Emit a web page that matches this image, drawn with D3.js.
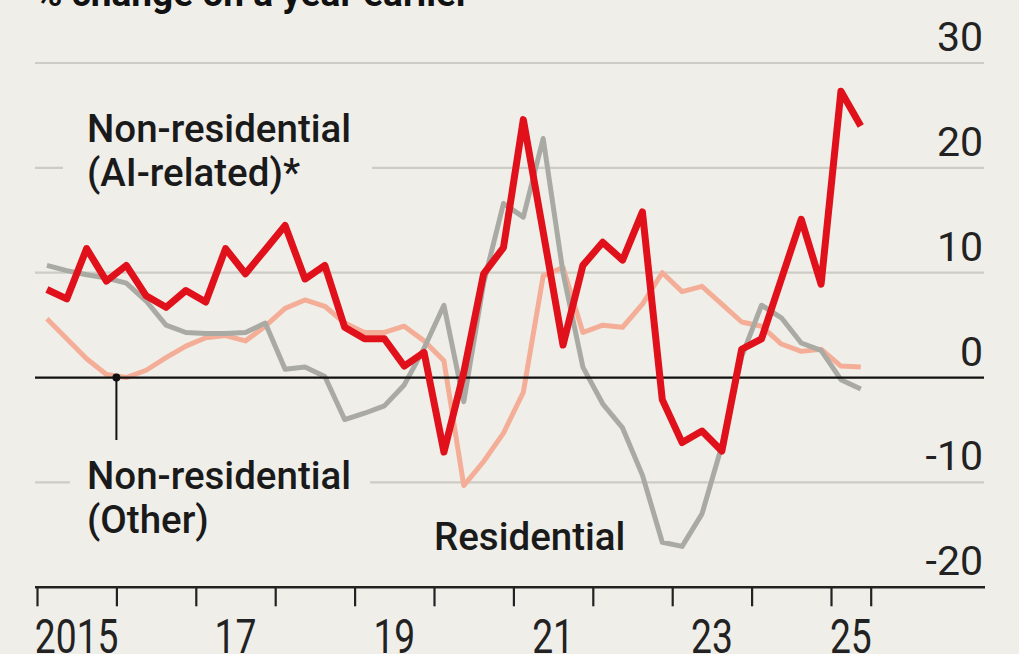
<!DOCTYPE html>
<html>
<head>
<meta charset="utf-8">
<script src="https://cdn.jsdelivr.net/npm/d3@7"></script>
<style>
  html, body { margin: 0; padding: 0; background: #efeee9; }
  svg { display: block; }
  text { font-family: Roboto, "Noto Sans", "Liberation Sans", sans-serif; }
</style>
</head>
<body>
<svg id="chart" width="1019" height="654"></svg>
<script>
// ---------- data ----------
const quarters = [
  "2015Q1","2015Q2","2015Q3","2015Q4",
  "2016Q1","2016Q2","2016Q3","2016Q4",
  "2017Q1","2017Q2","2017Q3","2017Q4",
  "2018Q1","2018Q2","2018Q3","2018Q4",
  "2019Q1","2019Q2","2019Q3","2019Q4",
  "2020Q1","2020Q2","2020Q3","2020Q4",
  "2021Q1","2021Q2","2021Q3","2021Q4",
  "2022Q1","2022Q2","2022Q3","2022Q4",
  "2023Q1","2023Q2","2023Q3","2023Q4",
  "2024Q1","2024Q2","2024Q3","2024Q4",
  "2025Q1","2025Q2"
];
// Non-residential (AI-related)*, % change on a year earlier
const aiRelated = [
  8.4, 7.5, 12.3, 9.2,
  10.7, 7.8, 6.7, 8.3,
  7.2, 12.3, 9.9, 12.2,
  14.5, 9.4, 10.7, 4.8,
  3.7, 3.7, 1.1, 2.4,
  -7.1, 0.5, 9.9, 12.4,
  24.6, 13.9, 3.1, 10.7,
  12.9, 11.2, 15.8, -2.1,
  -6.2, -5.1, -7.0, 2.7,
  3.7, 9.4, 15.1, 8.9,
  27.3, 24.0
];
// Non-residential (Other)
const other = [
  5.6, 3.7, 1.8, 0.3,
  0.0, 0.7, 1.9, 3.0,
  3.8, 4.0, 3.5, 4.9,
  6.6, 7.4, 6.8, 5.2,
  4.3, 4.3, 4.9, 3.5,
  1.6, -10.3, -8.0, -5.3,
  -1.4, 9.7, 10.5, 4.3,
  5.0, 4.8, 7.0, 10.0,
  8.2, 8.7, 7.0, 5.3,
  4.9, 3.2, 2.5, 2.7,
  1.1, 1.0
];
// Residential
const residential = [
  10.7, 10.2, 9.8, 9.5,
  9.0, 7.3, 5.0, 4.3,
  4.2, 4.2, 4.3, 5.2,
  0.8, 1.0, 0.1, -4.0,
  -3.4, -2.7, -0.7, 2.8,
  6.9, -2.3, 9.0, 16.6,
  15.3, 22.8, 10.0, 1.0,
  -2.5, -4.8, -9.3, -15.7,
  -16.1, -13.0, -6.5, 2.0,
  6.9, 5.7, 3.3, 2.6,
  -0.2, -1.1
];
const yTickValues = [30, 20, 10, 0, -10, -20];
const yTickLabels = ["30", "20", "10", "0", "-10", "-20"];
const xTickValues = [2015, 2016, 2017, 2018, 2019, 2020, 2021, 2022, 2023, 2024, 2025, 2025.5];
const xLabelYears = [2015, 2017, 2019, 2021, 2023, 2025];
const xLabelTexts = ["2015", "17", "19", "21", "23", "25"];
const titleText = "% change on a year earlier";

// ---------- setup ----------
const svg = d3.select("#chart");
const W = 1019, H = 654;
const bg = "#efeee9";
svg.append("rect").attr("width", W).attr("height", H).attr("fill", bg);

const x = d3.scaleLinear().domain([2015, 2025.5]).range([37, 870.7]);
const y = d3.scaleLinear().domain([-20, 30]).range([587.3, 63]);
const gridLeft = 35, gridRight = 984;

const qx = q => {
  const yr = +q.slice(0, 4), n = +q.slice(5);
  return yr + (n - 0.5) / 4;
};

// title (cut off at top, as in the reference)
svg.append("text")
  .attr("x", 35).attr("y", 6)
  .attr("font-size", 37).attr("font-weight", 700)
  .attr("fill", "#111")
  .text(titleText);

// gridlines
svg.append("g").selectAll("line")
  .data(yTickValues.filter(v => v !== 0 && v !== -20))
  .join("line")
  .attr("x1", gridLeft).attr("x2", gridRight)
  .attr("y1", d => y(d)).attr("y2", d => y(d))
  .attr("stroke", "#cdccc5").attr("stroke-width", 2.2);

// y tick labels
svg.append("g").selectAll("text")
  .data(yTickValues)
  .join("text")
  .attr("x", 983)
  .attr("y", d => y(d) - 12)
  .attr("text-anchor", "end")
  .attr("font-size", 41)
  .attr("fill", "#222")
  .text((d, i) => yTickLabels[i]);

// label background boxes (mask gridlines behind labels)
svg.append("rect").attr("x", 63).attr("y", 108).attr("width", 309).attr("height", 88).attr("fill", bg);
svg.append("rect").attr("x", 70).attr("y", 452).attr("width", 300).attr("height", 96).attr("fill", bg);

// series lines
const lineGen = d3.line()
  .x((d, i) => x(qx(quarters[i])))
  .y(d => y(d));

svg.append("path").datum(other)
  .attr("d", lineGen)
  .attr("fill", "none")
  .attr("stroke", "#f4ae98")
  .attr("stroke-width", 5)
  .attr("stroke-linejoin", "round");

svg.append("path").datum(residential)
  .attr("d", lineGen)
  .attr("fill", "none")
  .attr("stroke", "#a8aaa3")
  .attr("stroke-width", 5)
  .attr("stroke-linejoin", "round");

// zero line
svg.append("line")
  .attr("x1", gridLeft).attr("x2", gridRight)
  .attr("y1", y(0)).attr("y2", y(0))
  .attr("stroke", "#111").attr("stroke-width", 2.2);

svg.append("path").datum(aiRelated)
  .attr("d", lineGen)
  .attr("fill", "none")
  .attr("stroke", "#e0111b")
  .attr("stroke-width", 7)
  .attr("stroke-linejoin", "round");

// x axis
const xAxis = d3.axisBottom(x)
  .tickValues(xTickValues)
  .tickSize(19)
  .tickFormat("");
const gx = svg.append("g").attr("transform", `translate(0,${y(-20)})`).call(xAxis);
gx.select(".domain").remove();
gx.selectAll(".tick line").attr("stroke", "#222").attr("stroke-width", 2.2);
svg.append("line")
  .attr("x1", gridLeft).attr("x2", gridRight + 1)
  .attr("y1", y(-20)).attr("y2", y(-20))
  .attr("stroke", "#222").attr("stroke-width", 2.6);

svg.append("g").selectAll("text")
  .data(xLabelYears)
  .join("text")
  .attr("transform", d => `translate(${x(d === 2025 ? 2025.25 : d + 0.5)},653) scale(0.76,1)`)
  .attr("text-anchor", "middle")
  .attr("font-size", 49)
  .attr("fill", "#222")
  .text((d, i) => xLabelTexts[i]);

// annotation for Non-residential (Other)
svg.append("line")
  .attr("x1", x(2016)).attr("x2", x(2016))
  .attr("y1", y(0)).attr("y2", 440)
  .attr("stroke", "#111").attr("stroke-width", 2);
svg.append("circle")
  .attr("cx", x(2016)).attr("cy", y(0)).attr("r", 4)
  .attr("fill", "#111");

// series labels
const labelFont = 38.5;
function label(lines, lx, ly, lh) {
  const t = svg.append("text")
    .attr("x", lx).attr("y", ly)
    .attr("font-size", labelFont)
    .attr("font-weight", 500)
    .attr("fill", "#1a1a1a");
  lines.forEach((s, i) => {
    t.append("tspan").attr("x", lx).attr("dy", i === 0 ? 0 : lh).text(s);
  });
}
label(["Non-residential", "(AI-related)*"], 87, 142, 43.5);
label(["Non-residential", "(Other)"], 87, 489, 44);
label(["Residential"], 434, 550, 0);
</script>
</body>
</html>
